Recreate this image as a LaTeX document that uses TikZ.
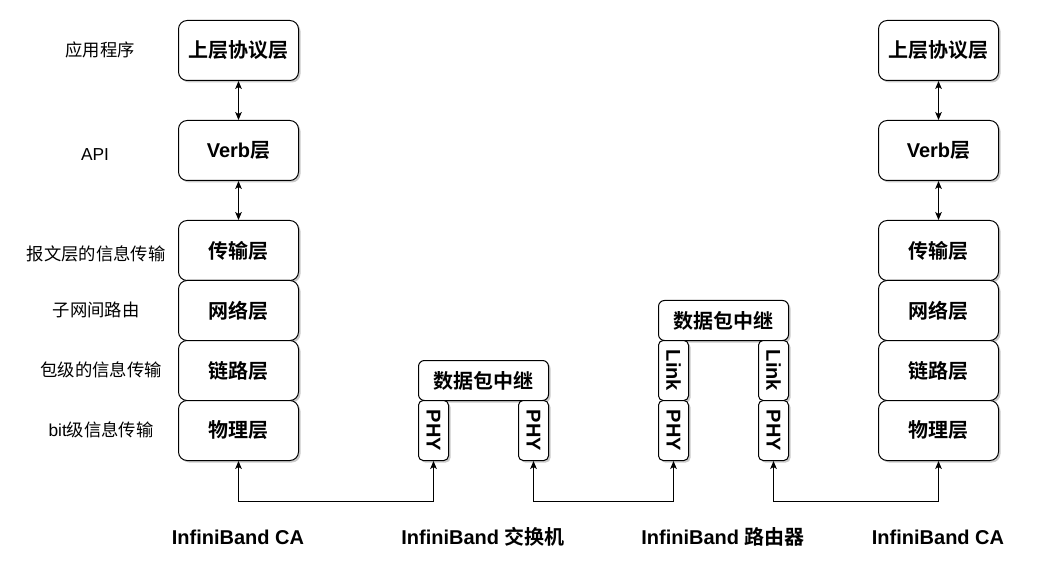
\documentclass[tikz,border=0pt]{standalone}
\usepackage{fontspec}
\setmainfont{Liberation Sans}
\newfontfamily\cjk{Noto Sans CJK SC}[BoldFont={Noto Sans CJK SC Bold}]
\usepackage{tikz}
\usetikzlibrary{arrows.meta,shadows}
\newcommand{\zh}[1]{{\cjk #1}}
\tikzset{every picture/.append style={x=0.75pt,y=-0.75pt}}
\tikzset{layer/.style={draw,fill=white,line width=0.75pt,rounded corners=6.5pt,minimum width=90pt,minimum height=45pt,inner sep=0pt,font=\fontsize{15}{18}\selectfont\bfseries,drop shadow={shadow xshift=1.5pt,shadow yshift=-1.5pt,opacity=0.35,fill=black!60}}}
\tikzset{relay/.style={layer,minimum width=97.5pt,minimum height=30pt,rounded corners=4.5pt}}
\tikzset{port/.style={layer,rotate=-90,minimum width=45pt,minimum height=22.5pt,rounded corners=3.5pt}}
\tikzset{note/.style={font=\fontsize{13}{16}\selectfont}}
\tikzset{device/.style={font=\fontsize{15}{18}\selectfont\bfseries}}
\tikzset{edge/.style={line width=0.75pt,{Stealth[length=6pt,width=5pt,inset=1.5pt]}-{Stealth[length=6pt,width=5pt,inset=1.5pt]}}}

\begin{document}
\begin{tikzpicture}
%InfiniBand layers: two CAs joined through a switch and a router
\useasboundingbox (0,0) rectangle (1059,566);
\node (app1) at (238.5,50.5)[layer]{\zh{上层协议层}};
\node (verb1) at (238.5,150.5)[layer]{Verb\zh{层}};
\node (trans1) at (238.5,250.5)[layer]{\zh{传输层}};
\node (net1) at (238.5,310.5)[layer]{\zh{网络层}};
\node (link1) at (238.5,370.5)[layer]{\zh{链路层}};
\node (phys1) at (238.5,430.5)[layer]{\zh{物理层}};
\node (app2) at (938.5,50.5)[layer]{\zh{上层协议层}};
\node (verb2) at (938.5,150.5)[layer]{Verb\zh{层}};
\node (trans2) at (938.5,250.5)[layer]{\zh{传输层}};
\node (net2) at (938.5,310.5)[layer]{\zh{网络层}};
\node (link2) at (938.5,370.5)[layer]{\zh{链路层}};
\node (phys2) at (938.5,430.5)[layer]{\zh{物理层}};
\node (sw) at (483.5,380.5)[relay]{\zh{数据包中继}};
\node (swa) at (433.5,430.5)[port]{PHY};
\node (swb) at (533.5,430.5)[port]{PHY};
\node (rt) at (723.5,320.5)[relay]{\zh{数据包中继}};
\node (rtla) at (673.5,370.5)[port]{Link};
\node (rtlb) at (773.5,370.5)[port]{Link};
\node (rta) at (673.5,430.5)[port]{PHY};
\node (rtb) at (773.5,430.5)[port]{PHY};
\node (n1) at (100,50)[note]{\zh{应用程序}};
\node (n2) at (95,155)[note]{API};
\node (n3) at (96,254)[note]{\zh{报文层的信息传输}};
\node (n4) at (96,310)[note]{\zh{子网间路由}};
\node (n5) at (101,370)[note]{\zh{包级的信息传输}};
\node (n6) at (101,430)[note]{bit\zh{级信息传输}};
\node (d1) at (238,537)[device]{InfiniBand CA};
\node (d2) at (483,537)[device]{InfiniBand \zh{交换机}};
\node (d3) at (723,537)[device]{InfiniBand \zh{路由器}};
\node (d4) at (938,537)[device]{InfiniBand CA};
\draw[edge] (app1)--(verb1);
\draw[edge] (verb1)--(trans1);
\draw[edge] (app2)--(verb2);
\draw[edge] (verb2)--(trans2);
\draw[edge] (phys1.south)--++(0,40)-|(swa.east);
\draw[edge] (swb.east)--++(0,40)-|(rta.east);
\draw[edge] (rtb.east)--++(0,40)-|(phys2.south);
\end{tikzpicture}
\end{document}
